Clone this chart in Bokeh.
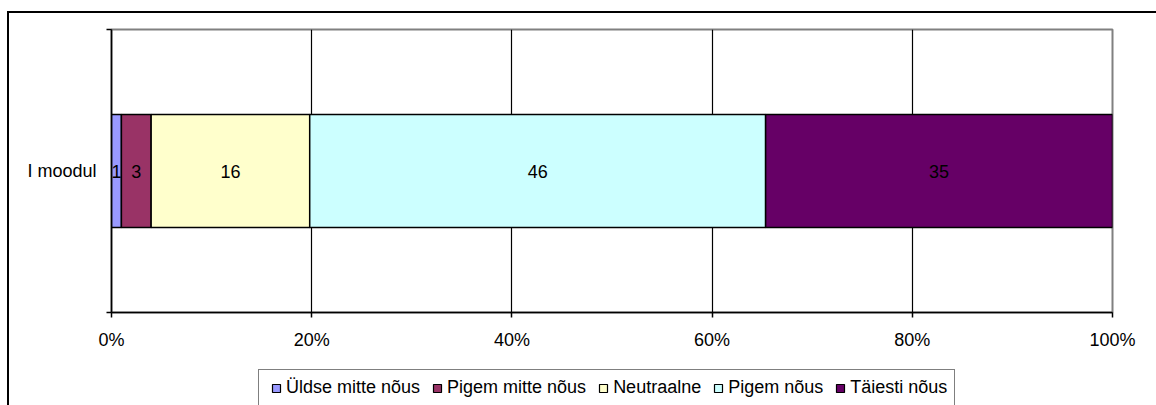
from bokeh.plotting import figure
from bokeh.layouts import column
from bokeh.models import Range1d, FixedTicker, NumeralTickFormatter, Legend, ColumnDataSource
from bokeh.core.properties import value
from bokeh.embed import file_html
from bokeh.resources import INLINE

# ---- data ----
categories = ["I moodul"]
series_names = ["Üldse mitte nõus", "Pigem mitte nõus", "Neutraalne", "Pigem nõus", "Täiesti nõus"]
values = [1, 3, 16, 46, 35]
colors = ["#9999FF", "#993366", "#FFFFCC", "#CCFFFF", "#660066"]
x_ticks = [0, 0.2, 0.4, 0.6, 0.8, 1.0]

FONT = "Liberation Sans"
FS = "18px"

total = float(sum(values))
lefts, rights = [], []
acc = 0.0
for v in values:
    lefts.append(acc / total)
    acc += v
    rights.append(acc / total)

p = figure(width=1156, height=365, output_backend="svg", toolbar_location=None,
           x_range=Range1d(0, 1), y_range=Range1d(0, 1))
p.min_border_left = 111
p.min_border_right = 44
p.min_border_top = 29
p.min_border_bottom = 53
p.background_fill_color = "white"
p.border_fill_color = None
p.outline_line_color = "#808080"
p.outline_line_width = 2

# x axis
xa = p.xaxis[0]
xa.ticker = FixedTicker(ticks=x_ticks)
xa.formatter = NumeralTickFormatter(format="0%")
xa.axis_line_color = "black"
xa.axis_line_width = 1.5
xa.major_tick_line_color = "black"
xa.major_tick_line_width = 1.5
xa.major_tick_out = 5
xa.major_tick_in = 0
xa.minor_tick_line_color = None
xa.major_label_standoff = 12
xa.major_label_text_font = FONT
xa.major_label_text_font_size = FS
xa.major_label_text_color = "black"

# y axis
ya = p.yaxis[0]
ya.ticker = FixedTicker(ticks=[0.5], minor_ticks=[0, 1])
ya.major_label_overrides = {0.5: categories[0]}
ya.axis_line_color = "black"
ya.axis_line_width = 1.5
ya.major_tick_line_color = None
ya.major_tick_out = 0
ya.major_tick_in = 0
ya.minor_tick_line_color = "black"
ya.minor_tick_line_width = 1.5
ya.minor_tick_out = 5
ya.minor_tick_in = 0
ya.major_label_standoff = 10
ya.major_label_text_font = FONT
ya.major_label_text_font_size = FS
ya.major_label_text_color = "black"

# grids
p.xgrid.ticker = FixedTicker(ticks=[0.2, 0.4, 0.6, 0.8])
p.xgrid.grid_line_color = "black"
p.xgrid.grid_line_width = 1.2
p.ygrid.grid_line_color = None

sources = []
for name, l, r, c in zip(series_names, lefts, rights, colors):
    src = ColumnDataSource(dict(y=[0.5], left=[l], right=[r]))
    sources.append(src)
    p.hbar(y="y", left="left", right="right", height=0.4, source=src,
           fill_color=c, line_color="black", line_width=1.5)

# data labels
centers = [(l + r) / 2 for l, r in zip(lefts, rights)]
lab_src = ColumnDataSource(dict(x=centers, y=[0.5] * len(values), t=[str(v) for v in values]))
p.text(x="x", y="y", text="t", source=lab_src, text_align="center", text_baseline="middle",
       text_font=value(FONT), text_font_size=FS, text_color="black")

# ---- legend strip (separate figure below the chart) ----
q = figure(width=1156, height=40, output_backend="svg", toolbar_location=None,
           x_range=Range1d(0, 1), y_range=Range1d(0, 1),
           x_axis_location=None, y_axis_location=None)
q.min_border = 0
q.grid.grid_line_color = None
q.outline_line_color = None
q.background_fill_color = None
q.border_fill_color = None

items = []
for name, c, src in zip(series_names, colors, sources):
    g = q.scatter(x="left", y="y", marker="square", size=8, source=src,
                  fill_color=c, line_color="black", line_width=1.2, visible=False)
    items.append((name, [g]))

legend = Legend(items=items, orientation="horizontal", location=(147, -1))
legend.border_line_color = "black"
legend.border_line_width = 1
legend.background_fill_color = "white"
legend.background_fill_alpha = 1
legend.label_text_font = FONT
legend.label_text_font_size = FS
legend.label_text_line_height = 1.0
legend.label_text_color = "black"
legend.glyph_width = 20
legend.glyph_height = 20
legend.label_standoff = 0
legend.spacing = 7
legend.padding = 7
legend.margin = 0
legend.label_height = 18
q.add_layout(legend, "center")

layout = column(p, q, spacing=0)
# outer chart frame (its left and top edges are what the window shows)
layout.styles = {"background": "linear-gradient(#000,#000) 7px 11px / 2px 100% no-repeat, "
                               "linear-gradient(#000,#000) 7px 11px / 100% 2px no-repeat, #ffffff"}

open("out.html", "w").write(file_html(layout, INLINE))
